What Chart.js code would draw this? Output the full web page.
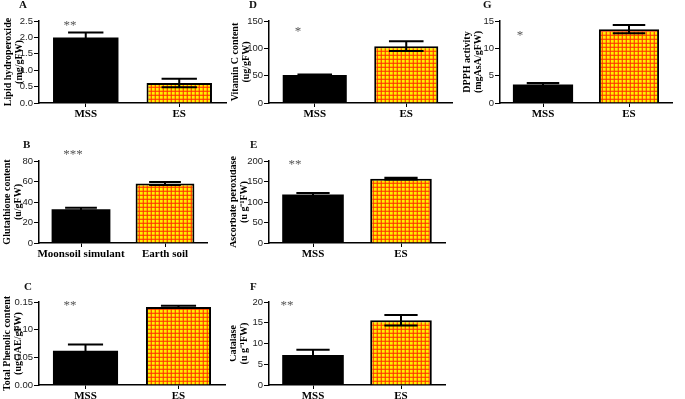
<!DOCTYPE html>
<html lang="en">
<head>
<meta charset="UTF-8">
<title>Antioxidant panels</title>
<script src="https://cdn.jsdelivr.net/npm/chart.js"></script>
<style>
  body { margin: 0; background: #fff; }
  #fig { position: relative; width: 685px; height: 399px; overflow: hidden; background: #fff; }
  #fig canvas { position: absolute; }
  .tag { position: absolute; font: bold 11px "Liberation Serif", "Times New Roman", serif; color: #111; }
</style>
</head>
<body>
<div id="fig"></div>
<script>
// data (mean, SE)
const shortLabels = ['MSS', 'ES'];
const longLabels = ['Moonsoil simulant', 'Earth soil'];

const lipidMean = [2.0, 0.61];
const lipidErr = [0.15, 0.13];
const glutathioneMean = [33, 58];
const glutathioneErr = [1.5, 1.5];
const phenolicMean = [0.062, 0.141];
const phenolicErr = [0.011, 0.002];
const vitaminCMean = [51, 104];
const vitaminCErr = [1, 9];
const apxMean = [118, 157];
const apxErr = [4, 2];
const catalaseMean = [7.2, 15.6];
const catalaseErr = [1.3, 1.25];
const dpphMean = [3.4, 13.5];
const dpphErr = [0.25, 0.75];

const SERIF = '"Liberation Serif", "Times New Roman", serif';
const SANS = '"Liberation Sans", Arial, sans-serif';

// box = canvas [x, y, w, h], area = plot area [left, top, right, bottom] on the page
const panels = [
    {tag: 'A', box: [0, 0, 230, 130], area: [39, 21, 226, 103], labels: shortLabels,
     values: lipidMean, errors: lipidErr, max: 2.5, step: 0.5, dec: 1,
     title: ['Lipid hydroperoxide', '(mg/gFW)'], titlePad: 3, star: '**', starAt: [31, 2], tagAt: [23, 5]},
    {tag: 'B', box: [0, 128, 230, 137], area: [39, 161, 207, 243], labels: longLabels,
     values: glutathioneMean, errors: glutathioneErr, max: 80, step: 20, dec: 0,
     title: ['Glutathione content', '(u/gFW)'], titlePad: 2, star: '***', starAt: [34, -9], tagAt: [27, 145]},
    {tag: 'C', box: [0, 262, 230, 137], area: [39, 302, 225, 385], labels: shortLabels,
     values: phenolicMean, errors: phenolicErr, max: 0.15, step: 0.05, dec: 2,
     title: ['Total Phenolic content', '(ugGAE/gFW)'], titlePad: 1.5, star: '**', starAt: [31, 1], tagAt: [28, 287]},
    {tag: 'D', box: [230, 0, 225, 130], area: [269, 21, 452, 103], labels: shortLabels,
     values: vitaminCMean, errors: vitaminCErr, max: 150, step: 50, dec: 0,
     title: ['Vitamin C content', '(ug/gFW)'], titlePad: 0, star: '*', starAt: [29, 8], tagAt: [253, 5]},
    {tag: 'E', box: [230, 128, 225, 137], area: [269, 161, 445, 243], labels: shortLabels,
     values: apxMean, errors: apxErr, max: 200, step: 50, dec: 0,
     title: ['Ascorbate peroxidase', '(u g\u207B\u00B9FW)'], titlePad: -2, star: '**', starAt: [26, 1], tagAt: [254, 145]},
    {tag: 'F', box: [230, 262, 225, 137], area: [269, 302, 445, 385], labels: shortLabels,
     values: catalaseMean, errors: catalaseErr, max: 20, step: 5, dec: 0,
     title: ['Catalase', '(u g\u207B\u00B9FW)'], titlePad: -2, star: '**', starAt: [18, 1], tagAt: [254, 287]},
    {tag: 'G', box: [455, 0, 230, 130], area: [500, 21, 672, 103], labels: shortLabels,
     values: dpphMean, errors: dpphErr, max: 15, step: 5, dec: 0,
     title: ['DPPH activity', '(mgAsA/gFW)'], titlePad: 6.5, star: '*', starAt: [20, 12], tagAt: [487, 5]}
];

// yellow squares crossed by orange-red grid lines
function checkPattern(ctx) {
    const c = document.createElement('canvas');
    c.width = 4;
    c.height = 4;
    const g = c.getContext('2d');
    g.fillStyle = '#fff000';
    g.fillRect(0, 0, 4, 4);
    g.fillStyle = 'rgba(255, 90, 0, 0.35)';
    g.fillRect(2, 0, 1, 4);
    g.fillRect(0, 2, 4, 1);
    g.fillStyle = 'rgba(255, 50, 0, 0.8)';
    g.fillRect(3, 0, 1, 4);
    g.fillRect(0, 3, 4, 1);
    return ctx.createPattern(c, 'repeat');
}

// SE bars and significance stars
const errorBars = {
    id: 'errorBars',
    afterDatasetsDraw(chart, args, opts) {
        const ctx = chart.ctx;
        const y = chart.scales.y;
        const meta = chart.getDatasetMeta(0);
        const vals = chart.data.datasets[0].data;
        ctx.save();
        ctx.strokeStyle = '#000';
        ctx.lineWidth = 2;
        meta.data.forEach((bar, i) => {
            const top = y.getPixelForValue(vals[i] + opts.errors[i]);
            const bot = y.getPixelForValue(vals[i] - opts.errors[i]);
            const half = bar.width * 0.27;
            ctx.beginPath();
            ctx.moveTo(bar.x, top); ctx.lineTo(bar.x, bot);
            ctx.moveTo(bar.x - half, top); ctx.lineTo(bar.x + half, top);
            ctx.moveTo(bar.x - half, bot); ctx.lineTo(bar.x + half, bot);
            ctx.stroke();
        });
        const area = chart.chartArea;
        ctx.fillStyle = '#555';
        ctx.font = '13px ' + SERIF;
        ctx.textAlign = 'center';
        ctx.textBaseline = 'alphabetic';
        ctx.fillText(opts.star, area.left + opts.starAt[0], area.top + opts.starAt[1] + 6);
        ctx.restore();
    }
};

const fig = document.getElementById('fig');

panels.forEach(p => {
    const [bx, by, bw, bh] = p.box;
    const [al, at, ar, ab] = p.area;

    const cv = document.createElement('canvas');
    cv.width = bw;
    cv.height = bh;
    cv.style.left = bx + 'px';
    cv.style.top = by + 'px';
    fig.appendChild(cv);

    const tag = document.createElement('div');
    tag.className = 'tag';
    tag.textContent = p.tag;
    tag.style.left = (p.tagAt[0] - 4) + 'px';
    tag.style.top = (p.tagAt[1] - 7) + 'px';
    fig.appendChild(tag);

    const ctx = cv.getContext('2d');
    new Chart(ctx, {
        type: 'bar',
        data: {
            labels: p.labels,
            datasets: [{
                data: p.values,
                backgroundColor: ['#000', checkPattern(ctx)],
                borderColor: '#000',
                borderWidth: [0, 2],
                barPercentage: 0.7,
                categoryPercentage: 1
            }]
        },
        options: {
            responsive: false,
            animation: false,
            layout: {padding: {left: 0, top: at - by, right: bx + bw - ar, bottom: 0}},
            plugins: {
                legend: {display: false},
                tooltip: {enabled: false},
                errorBars: {errors: p.errors, star: p.star, starAt: p.starAt}
            },
            scales: {
                x: {
                    afterFit(s) { s.height = by + bh - ab; },
                    border: {display: true, color: '#000', width: 1.5},
                    grid: {drawOnChartArea: false, drawTicks: true, tickLength: 4, offset: false, color: '#000'},
                    ticks: {color: '#000', padding: 1, maxRotation: 0, autoSkip: false,
                            font: {family: SERIF, size: 11, weight: 'bold'}}
                },
                y: {
                    min: 0,
                    max: p.max,
                    afterFit(s) { s.width = al - bx; },
                    border: {display: true, color: '#000', width: 1.5},
                    grid: {drawOnChartArea: false, drawTicks: true, tickLength: 5, color: '#000'},
                    ticks: {stepSize: p.step, color: '#222', padding: 1,
                            font: {family: SANS, size: 9.5},
                            callback: v => Number(v).toFixed(p.dec)},
                    title: {display: true, text: p.title, color: '#000',
                            padding: {top: p.titlePad, bottom: 0},
                            font: {family: SERIF, size: 10, weight: 'bold', lineHeight: 1.1}}
                }
            }
        },
        plugins: [errorBars]
    });
});
</script>
</body>
</html>
